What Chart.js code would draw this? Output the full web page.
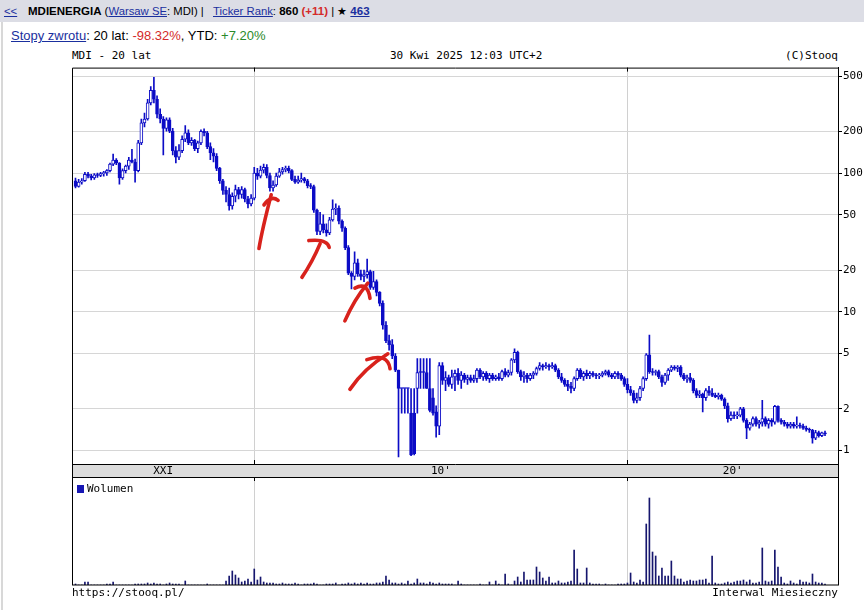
<!DOCTYPE html>
<html>
<head>
<meta charset="utf-8">
<script src="https://cdn.jsdelivr.net/npm/chart.js@4.4.1/dist/chart.umd.min.js"></script>
<style>
  body { margin: 0; width: 864px; height: 610px; background: #fff; position: relative; overflow: hidden; }
  #hdr { position: absolute; left: 0; top: 0; width: 864px; height: 22px; background: #dcdde5;
         font: 11.3px "Liberation Sans", Arial, sans-serif; line-height: 22px; color: #000; white-space: nowrap; }
  #hdr span { position: absolute; top: 0; }
  .bd { font: bold 11.5px "Liberation Sans", Arial, sans-serif; }
  .lk { color: #1a2f9e; text-decoration: underline; }
  .neg { color: #d42a2a; }
  .pos { color: #2a8a2a; }
  #edge { position: absolute; left: 1px; top: 22px; width: 2px; height: 588px; background: #d8d8d8; }
  #ret { position: absolute; left: 11px; top: 28px; font: 13px "Liberation Sans", Arial, sans-serif; line-height: 16px; white-space: nowrap; }
  .mono { position: absolute; font: 11px "DejaVu Sans Mono", monospace; line-height: 14px; color: #000; white-space: nowrap; }
  canvas { position: absolute; left: 0; }
  #price { top: 60px; }
  #vol { top: 477px; }
</style>
</head>
<body>
<div id="hdr">
  <span style="left:4px" class="lk">&lt;&lt;</span>
  <span style="left:28px"><b class="bd">MDIENERGIA</b> (<span class="lk" style="position:static">Warsaw SE</span>: MDI) |</span>
  <span style="left:213px"><span class="lk" style="position:static">Ticker Rank</span>: <b class="bd">860</b> <b class="bd neg">(+11)</b> | &#9733; <b class="bd lk">463</b></span>
</div>
<div id="edge"></div>
<div id="ret"><span class="lk">Stopy zwrotu</span>: 20 lat: <span class="neg">-98.32%</span>, YTD: <span class="pos">+7.20%</span></div>
<div class="mono" style="left:72px; top:49px">MDI - 20 lat</div>
<div class="mono" style="left:390px; top:49px">30 Kwi 2025 12:03 UTC+2</div>
<div class="mono" style="right:26px; top:49px">(C)Stooq</div>
<canvas id="price" width="864" height="418"></canvas>
<canvas id="vol" width="864" height="125"></canvas>
<div class="mono" style="left:72px; top:586px">https://stooq.pl/</div>
<div class="mono" style="right:26px; top:586px">Interwal Miesieczny</div>
<script>
// monthly bars, May 2005 .. Apr 2025 (one line per year)
const opens = [
  88, 80, 86, 88, 98, 95, 92, 97,
  96, 99, 100, 104, 116, 124, 118, 92, 104, 112, 124, 120,
  104, 165, 230, 245, 320, 395, 340, 265, 245, 210, 242, 200,
  145, 130, 145, 175, 195, 165, 172, 150, 165, 200, 195, 155,
  140, 132, 108, 88, 75, 70, 58, 68, 76, 70, 76, 65,
  60, 66, 100, 95, 105, 110, 96, 78, 82, 95, 102, 106,
  108, 104, 90, 86, 89, 91, 88, 81, 80, 54, 38, 43,
  39, 37, 46, 55, 56, 45, 40, 29, 19, 18, 22.5, 18.8,
  18, 18.5, 19.5, 15, 16.5, 13.8, 11.5, 8, 6.2, 5.8, 4.8, 3.8,
  2.8, 2.8, 2.8, 1.86, 1.86, 2.8, 3.65, 3.65, 3.65, 2.8, 2.4, 1.9,
  1.5, 4.1, 3.2, 3.35, 3.0, 3.4, 3.6, 3.2, 3.5, 3.25, 3.35, 3.2,
  3.3, 3.8, 3.4, 3.6, 3.3, 3.5, 3.3, 3.4, 3.3, 3.7, 3.5, 3.65,
  4.5, 5.1, 3.7, 3.4, 3.5, 3.3, 3.5, 3.6, 3.9, 4.1, 4.0, 4.1,
  4.0, 4.1, 3.8, 3.4, 3.2, 3.0, 2.9, 2.8, 3.3, 3.8, 3.4, 3.6,
  3.45, 3.6, 3.5, 3.45, 3.5, 3.6, 3.7, 3.5, 3.4, 3.6, 3.5, 3.3,
  3.0, 2.75, 2.6, 2.3, 2.4, 2.8, 3.3, 4.9, 3.7, 3.65, 3.7, 3.4,
  3.1, 3.5, 3.8, 4.0, 3.9, 4.0, 3.5, 3.3, 3.35, 3.2, 2.7, 2.5,
  2.55, 2.4, 2.7, 2.6, 2.5, 2.45, 2.5, 2.35, 2.1, 1.7, 1.8, 1.78,
  1.8, 2.0, 1.65, 1.45, 1.55, 1.7, 1.55, 1.6, 1.7, 1.55, 1.65, 1.6,
  2.08, 1.65, 1.6, 1.55, 1.5, 1.55, 1.5, 1.52, 1.5, 1.45, 1.42, 1.4,
  1.23, 1.35, 1.28, 1.34
];
const highs = [
  92, 90, 91, 101, 101, 98, 99, 100,
  101, 103, 106, 118, 137, 127, 119, 107, 114, 130, 148, 126,
  172, 245, 270, 340, 420, 490, 360, 290, 255, 250, 250, 210,
  155, 160, 185, 220, 205, 180, 175, 170, 205, 208, 200, 165,
  150, 138, 110, 90, 80, 78, 72, 82, 79, 80, 78, 68,
  70, 110, 108, 112, 116, 115, 100, 88, 100, 108, 110, 112,
  112, 106, 95, 95, 100, 93, 90, 84, 82, 55, 52, 50,
  43, 48, 64, 60, 58, 46, 41, 30, 19.5, 27, 24, 20,
  20, 24, 20, 19.6, 17, 14, 12, 8.5, 6.8, 6.3, 5, 3.8,
  2.8, 2.8, 2.8, 2.8, 2.8, 4.6, 4.6, 4.6, 4.6, 4.6, 2.8, 2.1,
  4.3, 4.3, 3.7, 3.5, 3.8, 3.8, 3.9, 3.7, 3.6, 3.5, 3.5, 3.5,
  3.9, 3.9, 3.7, 3.7, 3.6, 3.6, 3.5, 3.6, 3.8, 3.9, 3.8, 4.6,
  5.4, 5.2, 3.8, 3.7, 3.6, 3.6, 3.7, 4.0, 4.3, 4.2, 4.3, 4.2,
  4.3, 4.2, 3.9, 3.6, 3.3, 3.2, 3.1, 3.4, 3.9, 3.9, 3.7, 3.8,
  3.7, 3.7, 3.6, 3.6, 3.7, 3.8, 3.8, 3.6, 3.7, 3.7, 3.6, 3.4,
  3.3, 2.9, 2.7, 2.6, 2.9, 3.4, 5.0, 6.8, 3.9, 3.8, 3.8, 3.5,
  3.6, 3.9, 4.1, 4.1, 4.1, 4.1, 3.6, 3.5, 3.6, 3.3, 2.8, 2.7,
  2.6, 2.8, 2.9, 2.8, 2.6, 2.6, 2.55, 2.4, 2.2, 1.9, 1.9, 1.9,
  2.05, 2.05, 1.7, 1.6, 1.75, 1.75, 1.65, 2.3, 1.75, 1.7, 1.7, 2.12,
  2.1, 1.7, 1.65, 1.6, 1.6, 1.6, 1.75, 1.58, 1.55, 1.5, 1.45, 1.42,
  1.4, 1.38, 1.36, 1.38
];
const lows = [
  78, 79, 83, 87, 92, 89, 90, 93,
  94, 95, 96, 102, 113, 115, 83, 90, 100, 106, 118, 86,
  102, 160, 215, 240, 310, 320, 250, 230, 135, 200, 195, 135,
  118, 125, 140, 168, 160, 158, 145, 140, 160, 185, 150, 125,
  120, 104, 84, 70, 62, 54, 55, 62, 65, 66, 62, 56,
  58, 64, 90, 92, 100, 92, 74, 74, 80, 93, 98, 102,
  100, 88, 84, 84, 86, 85, 78, 77, 52, 36, 36, 37,
  35, 36, 45, 50, 43, 38, 28, 18.5, 14.6, 17, 18, 17,
  16.5, 17.5, 14.5, 14.5, 13, 11, 7.5, 6, 5.3, 4.6, 3.7, 0.9,
  1.86, 1.86, 1.86, 0.92, 0.93, 1.86, 2.8, 2.8, 2.8, 1.9, 1.8, 1.25,
  1.3, 3.0, 2.7, 2.9, 2.8, 2.7, 3.0, 2.8, 3.1, 3.0, 3.1, 3.1,
  3.1, 3.3, 3.2, 3.2, 3.1, 3.2, 3.2, 3.2, 3.2, 3.4, 3.4, 3.5,
  4.3, 3.6, 3.2, 3.1, 3.1, 3.2, 3.3, 3.5, 3.8, 3.8, 3.9, 3.8,
  3.9, 3.7, 3.3, 3.1, 2.9, 2.7, 2.6, 2.7, 3.2, 3.3, 3.2, 3.3,
  3.3, 3.4, 3.3, 3.3, 3.4, 3.5, 3.4, 3.3, 3.3, 3.3, 3.2, 2.9,
  2.6, 2.5, 2.2, 2.2, 2.3, 2.7, 3.2, 3.6, 3.5, 3.5, 3.3, 2.9,
  3.0, 3.2, 3.7, 3.8, 3.7, 3.4, 3.2, 3.1, 3.1, 2.6, 2.4, 2.4,
  1.9, 2.3, 2.5, 2.45, 2.4, 2.35, 2.3, 2.0, 1.6, 1.65, 1.7, 1.7,
  1.75, 1.6, 1.22, 1.4, 1.5, 1.5, 1.45, 1.5, 1.5, 1.45, 1.5, 1.55,
  1.6, 1.55, 1.5, 1.45, 1.45, 1.45, 1.45, 1.45, 1.42, 1.38, 1.35, 1.13,
  1.2, 1.25, 1.26, 1.28
];
const closes = [
  80, 86, 88, 98, 95, 92, 97, 96,
  99, 100, 104, 116, 124, 118, 92, 104, 112, 124, 120, 104,
  165, 230, 245, 320, 395, 340, 265, 245, 210, 242, 200, 145,
  130, 145, 175, 195, 165, 172, 150, 165, 200, 195, 155, 140,
  132, 108, 88, 75, 70, 58, 68, 76, 70, 76, 65, 60,
  66, 100, 95, 105, 110, 96, 78, 82, 95, 102, 106, 108,
  104, 90, 86, 89, 91, 88, 81, 80, 54, 38, 43, 39,
  37, 46, 55, 56, 45, 40, 29, 19, 18, 22.5, 18.8, 18,
  18.5, 19.5, 15, 16.5, 13.8, 11.5, 8, 6.2, 5.8, 4.8, 3.8, 2.8,
  2.8, 2.8, 2.8, 0.93, 0.95, 3.65, 3.65, 3.65, 2.8, 1.95, 1.86, 1.5,
  4.1, 3.2, 3.35, 3.0, 3.4, 3.6, 3.2, 3.5, 3.25, 3.35, 3.2, 3.3,
  3.8, 3.4, 3.6, 3.3, 3.5, 3.3, 3.4, 3.3, 3.7, 3.5, 3.65, 4.5,
  5.1, 3.7, 3.4, 3.5, 3.3, 3.5, 3.6, 3.9, 4.1, 4.0, 4.1, 4.0,
  4.1, 3.8, 3.4, 3.2, 3.0, 2.9, 2.8, 3.3, 3.8, 3.4, 3.6, 3.45,
  3.6, 3.5, 3.45, 3.5, 3.6, 3.7, 3.5, 3.4, 3.6, 3.5, 3.3, 3.0,
  2.75, 2.6, 2.3, 2.4, 2.8, 3.3, 4.9, 3.7, 3.65, 3.7, 3.4, 3.1,
  3.5, 3.8, 4.0, 3.9, 4.0, 3.5, 3.3, 3.35, 3.2, 2.7, 2.5, 2.55,
  2.4, 2.7, 2.6, 2.5, 2.45, 2.5, 2.35, 2.1, 1.7, 1.8, 1.78, 1.8,
  2.0, 1.65, 1.45, 1.55, 1.7, 1.55, 1.6, 1.7, 1.55, 1.65, 1.6, 2.08,
  1.65, 1.6, 1.55, 1.5, 1.55, 1.5, 1.52, 1.5, 1.45, 1.42, 1.4, 1.23,
  1.35, 1.28, 1.34, 1.32
];
const volumes = [
  1, 0, 0, 3, 3, 0, 0, 0,
  0, 0, 1, 1, 3, 0, 0, 0, 0, 0, 0, 1,
  1, 1, 1, 2, 1, 2, 1, 1, 0, 1, 2, 1,
  1, 1, 0, 4, 0, 0, 0, 0, 0, 0, 1, 0,
  0, 0, 0, 0, 4, 9, 14, 10, 7, 3, 4, 6,
  3, 16, 5, 8, 3, 2, 2, 2, 1, 1, 2, 1,
  1, 1, 2, 1, 0, 1, 1, 1, 2, 1, 0, 0,
  1, 1, 1, 2, 0, 1, 1, 2, 1, 2, 1, 2,
  1, 2, 1, 1, 2, 2, 3, 9, 5, 2, 2, 1,
  2, 1, 4, 1, 2, 6, 2, 2, 1, 3, 2, 1,
  2, 1, 1, 1, 1, 0, 4, 1, 0, 0, 0, 0,
  0, 1, 0, 0, 3, 0, 4, 1, 0, 11, 1, 0,
  4, 8, 3, 13, 5, 5, 5, 18, 13, 7, 4, 8,
  2, 2, 4, 2, 2, 3, 4, 35, 16, 2, 2, 17,
  2, 1, 1, 1, 0, 1, 0, 0, 0, 1, 1, 1,
  2, 12, 3, 2, 5, 3, 61, 87, 33, 29, 9, 17,
  9, 9, 24, 9, 6, 6, 3, 4, 5, 4, 4, 5,
  5, 6, 2, 29, 2, 1, 1, 2, 3, 2, 3, 4,
  4, 5, 3, 5, 2, 2, 3, 37, 4, 3, 4, 35,
  18, 8, 2, 1, 4, 2, 1, 5, 3, 3, 2, 11,
  3, 2, 2, 1
];
const priceTicks = [1, 2, 5, 10, 20, 50, 100, 200, 500];
const decadeTicks = [57, 176];           // Jan 2010, Jan 2020 (bar index)
const decadeLabels = ['XXI', "10'", "20'"];

// hand-drawn red arrows, in (bar index, price)
const arrows = [
  { shaft: [[58.5, 28.6], [59.6, 40], [62.4, 69.6]], head: [[60.1, 58.9], [62.4, 69.6], [64.6, 63.5]] },
  { shaft: [[72.2, 17.7], [75.6, 23], [78.0, 31]], head: [[74.4, 32.6], [80.2, 33.7], [80.9, 29.1]] },
  { shaft: [[85.9, 8.6], [88.8, 12.2], [93.2, 16.1]], head: [[89.1, 14.8], [93.2, 16.6], [93.9, 12.5]] },
  { shaft: [[87.5, 2.76], [92, 3.9], [99.6, 4.98]], head: [[92.9, 4.52], [99.6, 5.08], [100.3, 3.89]] }
];

const BLUE = '#0c0cc6';
const X_MIN = -1.116, X_MAX = 243.14;

// shared month axis: no offset, only the two decade grid lines
const xAxis = () => ({
  type: 'linear', min: X_MIN, max: X_MAX, offset: false, bounds: 'data',
  afterBuildTicks: s => { s.ticks = decadeTicks.map(v => ({ value: v })); },
  afterFit: s => { s.height = 0; },
  ticks: { display: false },
  grid: { color: '#d0d0d0', drawTicks: false, offset: false },
  border: { display: false }
});

function strokePath(ctx, pts) {
  ctx.beginPath();
  ctx.moveTo(pts[0][0], pts[0][1]);
  if (pts.length === 3) ctx.quadraticCurveTo(pts[1][0], pts[1][1], pts[2][0], pts[2][1]);
  else pts.slice(1).forEach(p => ctx.lineTo(p[0], p[1]));
  ctx.stroke();
}

function decadeMarks(ctx, x, yFrom, yTo) {
  decadeTicks.forEach(v => {
    const px = Math.round(x.getPixelForValue(v)) + 0.5;
    ctx.beginPath(); ctx.moveTo(px, yFrom); ctx.lineTo(px, yTo); ctx.stroke();
  });
}

const priceDecor = {
  id: 'priceDecor',
  afterDatasetsDraw(chart) {
    const { ctx, scales: { x, y } } = chart;
    ctx.save();
    ctx.strokeStyle = '#d8221c';
    ctx.lineWidth = 3.6;
    ctx.lineCap = 'round';
    ctx.lineJoin = 'round';
    arrows.forEach(a => {
      [a.shaft, a.head].forEach(pts => {
        strokePath(ctx, pts.map(([i, v]) => [x.getPixelForValue(i), y.getPixelForValue(v)]));
      });
    });
    ctx.restore();
  },
  afterDraw(chart) {
    const { ctx, chartArea: a, scales: { x } } = chart;
    const L = a.left + 0.5, R = a.right + 0.5, T = a.top + 0.5, B = a.bottom + 0.5;
    ctx.save();
    // decade band under the price panel
    ctx.fillStyle = '#dcdcdc';
    ctx.fillRect(a.left, a.bottom, a.right - a.left, 13);
    ctx.strokeStyle = '#000';
    ctx.lineWidth = 1;
    ctx.beginPath();
    ctx.moveTo(L, T); ctx.lineTo(R, T); ctx.lineTo(R, B + 13);
    ctx.moveTo(L, T); ctx.lineTo(L, B + 13);
    ctx.moveTo(L, B); ctx.lineTo(R, B);
    ctx.moveTo(L, B + 13); ctx.lineTo(R, B + 13);
    ctx.stroke();
    decadeMarks(ctx, x, a.top, a.top + 4);
    decadeMarks(ctx, x, a.bottom - 4, a.bottom);
    const edges = [a.left, ...decadeTicks.map(v => x.getPixelForValue(v)), a.right];
    ctx.fillStyle = '#000';
    ctx.font = '11px "DejaVu Sans Mono", monospace';
    ctx.textAlign = 'center';
    ctx.textBaseline = 'middle';
    decadeLabels.forEach((t, k) => ctx.fillText(t, (edges[k] + edges[k + 1]) / 2, a.bottom + 7));
    ctx.restore();
  }
};

const volDecor = {
  id: 'volDecor',
  afterDraw(chart) {
    const { ctx, chartArea: a, scales: { x } } = chart;
    ctx.save();
    ctx.strokeStyle = '#000';
    ctx.lineWidth = 1;
    ctx.strokeRect(a.left + 0.5, 0.5, a.right - a.left, a.bottom - 0.5);
    decadeMarks(ctx, x, 0, 4);
    ctx.fillStyle = '#1616b4';
    ctx.fillRect(a.left + 5, 8, 7, 8);
    ctx.fillStyle = '#000';
    ctx.font = '11px "DejaVu Sans Mono", monospace';
    ctx.textBaseline = 'middle';
    ctx.fillText('Wolumen', a.left + 15, 12);
    ctx.restore();
  }
};

const common = { responsive: false, animation: false, events: [], devicePixelRatio: 1 };

new Chart(document.getElementById('price'), {
  type: 'bar',
  data: {
    datasets: [
      {
        // candle bodies: hollow when the month closed higher
        data: closes.map((c, i) => ({ x: i, y: [opens[i], c] })),
        backgroundColor: closes.map((c, i) => c > opens[i] ? '#ffffff' : BLUE),
        borderColor: BLUE, borderWidth: 1, borderSkipped: false,
        barThickness: 3, minBarLength: 1, grouped: false, order: 0
      },
      {
        // wicks
        data: closes.map((c, i) => ({ x: i, y: [lows[i], highs[i]] })),
        backgroundColor: BLUE, barThickness: 1, grouped: false, order: 1
      }
    ]
  },
  options: {
    ...common,
    layout: { padding: { left: 72, top: 5, right: 0, bottom: 14 } },
    plugins: { legend: { display: false }, tooltip: { enabled: false } },
    scales: {
      x: xAxis(),
      y: {
        type: 'logarithmic', position: 'right', min: 0.8, max: 575,
        afterBuildTicks: s => { s.ticks = priceTicks.map(v => ({ value: v })); },
        afterFit: s => { s.width = 26; },
        grid: { color: '#d6d6d6', tickColor: '#000', tickLength: 4 },
        border: { color: '#000' },
        ticks: { color: '#000', padding: 1, autoSkip: false, maxRotation: 0,
                 font: { family: 'DejaVu Sans Mono', size: 11 }, callback: v => String(v) }
      }
    }
  },
  plugins: [priceDecor]
});

new Chart(document.getElementById('vol'), {
  type: 'bar',
  data: {
    datasets: [{
      data: volumes.map((v, i) => ({ x: i, y: v })),
      backgroundColor: '#16166e', barThickness: 1
    }]
  },
  options: {
    ...common,
    layout: { padding: { left: 72, top: 1, right: 26, bottom: 17 } },
    plugins: { legend: { display: false }, tooltip: { enabled: false } },
    scales: {
      x: xAxis(),
      y: { display: false, min: 0, max: 107 }
    }
  },
  plugins: [volDecor]
});
</script>
</body>
</html>
